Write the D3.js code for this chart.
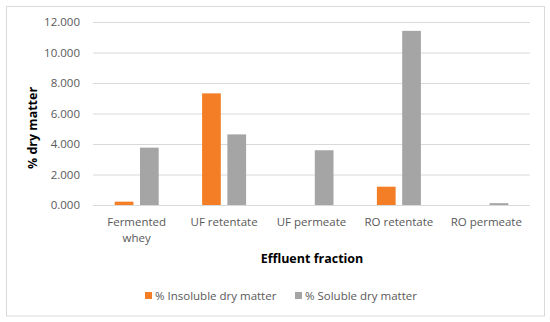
<!DOCTYPE html>
<html>
<head>
<meta charset="utf-8">
<script src="https://cdn.jsdelivr.net/npm/d3@7"></script>
<style>
  body { margin: 0; background: #fff; }
  text { font-family: "Open Sans", "Noto Sans", sans-serif; }
</style>
</head>
<body>
<div id="chart"></div>
<script>
// Data
// ==============================
var categories = ["Fermented whey", "UF retentate", "UF permeate", "RO retentate", "RO permeate"];
var seriesNames = ["% Insoluble dry matter", "% Soluble dry matter"];
var insoluble = [0.22, 7.32, 0, 1.2, 0];
var soluble = [3.76, 4.63, 3.59, 11.42, 0.12];
var yTicks = [0, 2, 4, 6, 8, 10, 12];
var colors = ["#F47E25", "#A5A5A5"];

var svgWidth = 550, svgHeight = 322;
var margin = { top: 22, right: 20, bottom: 117, left: 93 };
var width = 530 - margin.left;
var height = 205 - margin.top;

var svg = d3.select("#chart").append("svg")
  .attr("width", svgWidth)
  .attr("height", svgHeight);

// outer frame
svg.append("rect")
  .attr("x", 6.5).attr("y", 6.5)
  .attr("width", 538).attr("height", 309.5)
  .attr("fill", "#fff")
  .attr("stroke", "#D9D9D9");

var chartGroup = svg.append("g")
  .attr("transform", `translate(${margin.left}, ${margin.top})`);

// Scales
var x0 = d3.scaleBand().domain(categories).range([0, width]);
var x1 = d3.scaleBand().domain(seriesNames)
  .range([x0.bandwidth() / 2 - 22, x0.bandwidth() / 2 + 22]).paddingInner(0.26).paddingOuter(0);
var y = d3.scaleLinear().domain([0, 12]).range([height, 0]);

// Gridlines
chartGroup.append("g")
  .call(d3.axisLeft(y).tickValues(yTicks).tickSize(-width).tickFormat(""))
  .call(g => g.select(".domain").remove())
  .call(g => g.selectAll("line").attr("stroke", "#D9D9D9"));

// Y tick labels
chartGroup.append("g")
  .call(d3.axisLeft(y).tickValues(yTicks).tickSize(0).tickPadding(13).tickFormat(d3.format(".3f")))
  .call(g => g.select(".domain").remove())
  .call(g => g.selectAll("text").attr("fill", "#595959").style("font-size", "11.5px"));

// Bars
var rows = categories.map((c, i) => ({ cat: c, vals: [insoluble[i], soluble[i]] }));
var groups = chartGroup.selectAll(".grp")
  .data(rows).enter().append("g")
  .attr("transform", d => `translate(${x0(d.cat)},0)`);

groups.selectAll("rect")
  .data(d => d.vals.map((v, j) => ({ name: seriesNames[j], v: v, j: j })))
  .enter().append("rect")
  .attr("x", d => x1(d.name))
  .attr("width", x1.bandwidth())
  .attr("y", d => y(d.v))
  .attr("height", d => height - y(d.v))
  .attr("fill", d => colors[d.j]);

// X axis line
chartGroup.append("line")
  .attr("x1", 0).attr("x2", width)
  .attr("y1", height + 0.5).attr("y2", height + 0.5)
  .attr("stroke", "#D9D9D9");

// X category labels (wrapped)
var labelLines = { "Fermented whey": ["Fermented", "whey"] };
chartGroup.selectAll(".xlab")
  .data(categories).enter().append("text")
  .attr("text-anchor", "middle")
  .attr("fill", "#595959")
  .style("font-size", "11.5px")
  .each(function(d) {
    var lines = labelLines[d] || [d];
    d3.select(this).selectAll("tspan").data(lines).enter().append("tspan")
      .attr("x", x0(d) + x0.bandwidth() / 2)
      .attr("y", (l, i) => height + 21 + i * 16)
      .text(l => l);
  });

// Axis titles
svg.append("text")
  .attr("transform", "rotate(-90)")
  .attr("x", -128).attr("y", 37)
  .attr("text-anchor", "middle")
  .style("font-size", "12.5px").style("font-weight", "bold")
  .attr("fill", "#000")
  .text("% dry matter");

svg.append("text")
  .attr("x", 312).attr("y", 263)
  .attr("text-anchor", "middle")
  .style("font-size", "12.5px").style("font-weight", "bold")
  .attr("fill", "#000")
  .text("Effluent fraction");

// Legend
var legendX = [145, 295];
var legend = svg.selectAll(".leg")
  .data(seriesNames).enter().append("g")
  .attr("transform", (d, i) => `translate(${legendX[i]}, 296)`);
legend.append("rect")
  .attr("x", 0).attr("y", -4).attr("width", 7).attr("height", 7)
  .attr("fill", (d, i) => colors[i]);
legend.append("text")
  .attr("x", 10).attr("y", 4)
  .attr("fill", "#595959")
  .style("font-size", "11.5px")
  .text(d => d);
</script>
</body>
</html>
